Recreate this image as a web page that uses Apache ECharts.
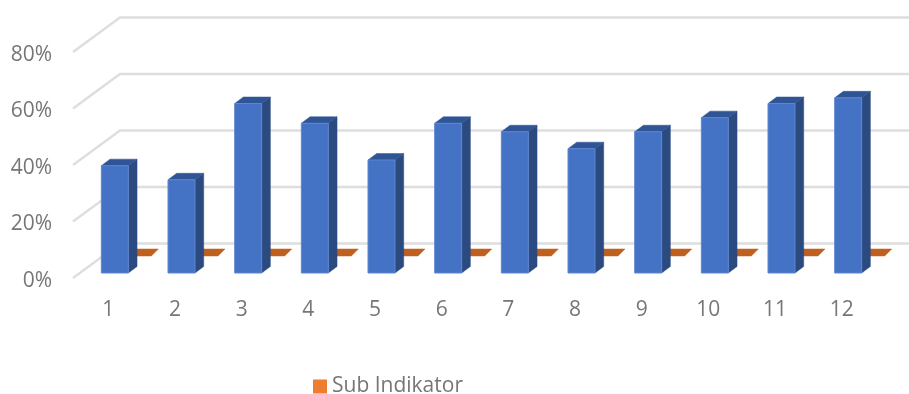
<!DOCTYPE html>
<html>
<head>
<meta charset="utf-8">
<style>html,body{margin:0;padding:0;background:#fff}#chart{width:909px;height:394px}</style>
<script src="https://cdn.jsdelivr.net/npm/echarts@6/dist/echarts.min.js"></script>
</head>
<body>
<div id="chart"></div>
<script>
// Percent values per category; the second series sits flat at zero.
const categories = ['1','2','3','4','5','6','7','8','9','10','11','12'];
const mainValues = [38,33,60,53,40,53,50,44,50,55,60,62];
const subIndikator = [0,0,0,0,0,0,0,0,0,0,0,0];
const percentTicks = [0,20,40,60,80];

const FONT = '"Open Sans", "Noto Sans", sans-serif';
const TEXT = '#767676';
const GRID_LINE = '#dedede';

// Oblique projection used to fake the 3D floor depth.
const WALL_DX = 47, WALL_DY = -34;   // front plane to back wall
const ROW1_DX = 6.5, ROW1_DY = -5;   // front bar row
const ROW2_DX = 29.5, ROW2_DY = -22; // rear bar row
const BAR_W = 27, BAR_DX = 8.7, BAR_DY = -6.5;

function poly(points, fill, stroke) {
  return {
    type: 'polygon',
    shape: { points },
    style: { fill, stroke: stroke || fill, lineWidth: stroke ? 1 : 0.5 }
  };
}

// Back wall gridline plus the diagonal running to the front plane.
function renderWall(params, api) {
  const cs = params.coordSys;
  const y = api.coord([0, api.value(0)])[1];
  return {
    type: 'polyline',
    shape: { points: [
      [cs.x - 2, y],
      [cs.x - 2 + WALL_DX, y + WALL_DY - 0.5],
      [cs.x + cs.width + WALL_DX, y + WALL_DY - 0.5]
    ] },
    style: { stroke: GRID_LINE, lineWidth: 2.4, fill: 'none' }
  };
}

// Box made of front, top and side faces.
function renderBar(params, api) {
  const p = api.coord([api.value(0), api.value(1)]);
  const base = api.coord([api.value(0), 0]);
  const l = p[0] + ROW1_DX - BAR_W / 2, r = l + BAR_W;
  const t = p[1] + ROW1_DY, b = base[1] + ROW1_DY;
  return {
    type: 'group',
    children: [
      poly([[r, t], [r + BAR_DX, t + BAR_DY], [r + BAR_DX, b + BAR_DY], [r, b]], '#2B4A80'),
      poly([[l, t], [l + BAR_DX, t + BAR_DY], [r + BAR_DX, t + BAR_DY], [r, t]], '#2F5597'),
      poly([[l, t], [r, t], [r, b], [l, b]], '#4472C4', '#5F86CF')
    ]
  };
}

// A zero value collapses to a flat parallelogram on the floor.
function renderFlat(params, api) {
  const p = api.coord([api.value(0), api.value(1)]);
  const l = p[0] + ROW2_DX - BAR_W / 2, r = l + BAR_W;
  const b = p[1] + ROW2_DY;
  return poly([[l, b], [r, b], [r + 7, b - 7], [l + 7, b - 7]], '#C0601F');
}

const chart = echarts.init(document.getElementById('chart'), null, { renderer: 'canvas' });
chart.setOption({
  animation: false,
  backgroundColor: '#fff',
  grid: { left: 75, right: 34, top: 52, bottom: 116, containLabel: false },
  legend: {
    data: ['Sub Indikator'],
    left: 308,
    top: 371,
    icon: 'rect',
    itemWidth: 14,
    itemHeight: 14,
    itemGap: 6,
    textStyle: { color: TEXT, fontFamily: FONT, fontSize: 21 }
  },
  xAxis: {
    type: 'category',
    data: categories,
    axisLine: { show: false },
    axisTick: { show: false },
    axisLabel: { color: TEXT, fontFamily: FONT, fontSize: 21, margin: 22 }
  },
  yAxis: {
    type: 'value',
    min: 0,
    max: 80,
    interval: 20,
    splitLine: { show: false },
    axisLine: { show: false },
    axisTick: { show: false },
    axisLabel: {
      color: TEXT, fontFamily: FONT, fontSize: 21, margin: 23,
      verticalAlign: 'top',
      lineHeight: 6,
      formatter: v => v + '%'
    }
  },
  series: [
    {
      name: 'Gridlines',
      type: 'custom',
      renderItem: renderWall,
      data: percentTicks.map(v => [v]),
      encode: { y: 0 },
      silent: true,
      z: 1
    },
    {
      name: 'Sub Indikator',
      type: 'custom',
      renderItem: renderFlat,
      data: categories.map((c, i) => [i, subIndikator[i]]),
      encode: { x: 0, y: 1 },
      itemStyle: { color: '#ED7D31' },
      z: 2
    },
    {
      name: 'Indikator',
      type: 'custom',
      renderItem: renderBar,
      data: categories.map((c, i) => [i, mainValues[i]]),
      encode: { x: 0, y: 1 },
      itemStyle: { color: '#4472C4' },
      z: 3
    }
  ]
});
</script>
</body>
</html>
